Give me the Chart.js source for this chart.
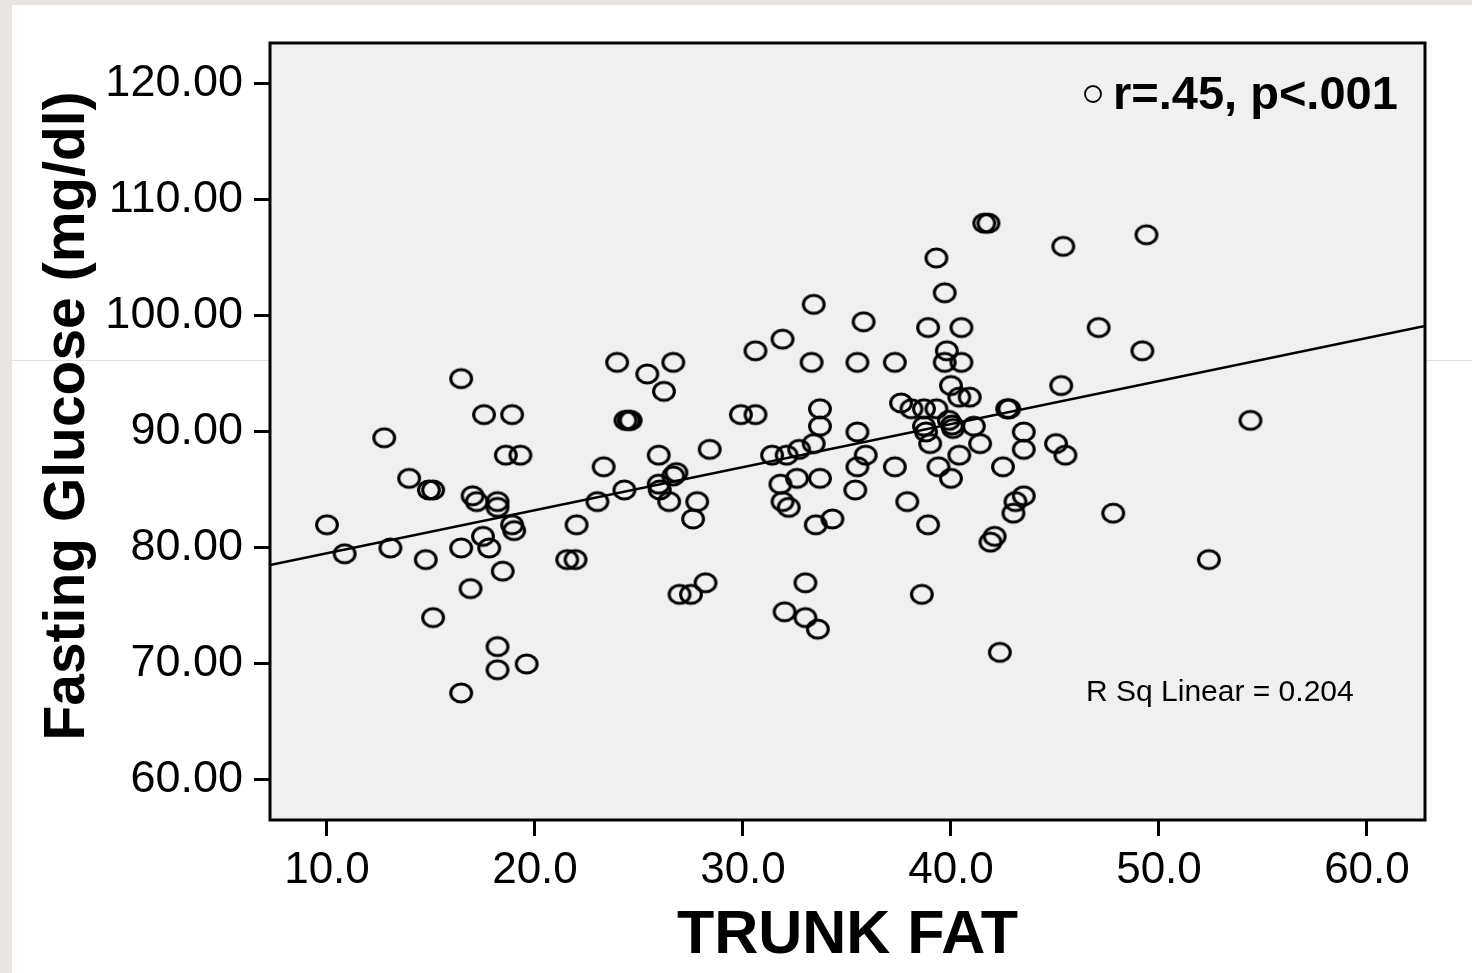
<!DOCTYPE html>
<html>
<head>
<meta charset="utf-8">
<script src="https://cdn.jsdelivr.net/npm/chart.js@4"></script>
<style>
  html, body { margin: 0; padding: 0; background: #ffffff; }
  #wrap { width: 1472px; height: 973px; position: relative; }
</style>
</head>
<body>
<div id="wrap"><canvas id="chart" width="1472" height="973"></canvas></div>
<script>
// values
const trunkFat = [
  10.0, 10.85, 12.75, 13.05, 13.95, 14.75, 14.9, 15.1, 15.1, 16.45,
  16.45, 16.45, 16.9, 17.0, 17.2, 17.55, 17.5, 17.8, 18.2, 18.2,
  18.2, 18.2, 18.45, 18.6, 18.9, 18.9, 19.0, 19.3, 19.6, 21.55,
  21.95, 22.0, 23.0, 23.3, 23.95, 24.3, 24.35, 24.5, 24.6, 25.4,
  25.95, 25.95, 26.0, 26.2, 26.45, 26.65, 26.65, 26.8, 26.95, 27.5,
  27.6, 27.8, 28.2, 28.4, 29.9, 30.6, 30.6, 31.4, 31.8, 31.9,
  31.9, 32.0, 32.1, 32.2, 32.6, 32.7, 33.0, 33.0, 33.3, 33.4,
  33.4, 33.5, 33.6, 33.7, 33.7, 33.7, 34.3, 35.4, 35.5, 35.5,
  35.5, 35.8, 35.9, 37.3, 37.3, 37.6, 37.9, 38.1, 38.6, 38.7,
  38.7, 38.8, 38.9, 38.9, 39.0, 39.3, 39.3, 39.4, 39.7, 39.7,
  39.8, 39.9, 40.0, 40.0, 40.05, 40.1, 40.4, 40.4, 40.5, 40.5,
  40.9, 41.1, 41.4, 41.6, 41.8, 41.9, 42.1, 42.35, 42.5, 42.7,
  42.8, 43.0, 43.1, 43.5, 43.5, 43.5, 45.05, 45.3, 45.4, 45.5,
  47.1, 47.8, 49.2, 49.4, 52.4, 54.4
];
const glucose = [
  82.0, 79.5, 89.5, 80.0, 86.0, 79.0, 85.0, 85.0, 74.0, 94.6,
  80.0, 67.5, 76.5, 84.5, 84.0, 91.5, 81.0, 80.0, 84.0, 83.5,
  71.5, 69.5, 78.0, 88.0, 91.5, 82.0, 81.5, 88.0, 70.0, 79.0,
  79.0, 82.0, 84.0, 87.0, 96.0, 85.0, 91.0, 91.0, 91.0, 95.0,
  88.0, 85.5, 85.0, 93.5, 84.0, 96.0, 86.2, 86.5, 76.0, 76.0,
  82.5, 84.0, 77.0, 88.5, 91.5, 91.5, 97.0, 88.0, 85.5, 98.0,
  84.0, 74.5, 88.0, 83.5, 86.0, 88.5, 77.0, 74.0, 96.0, 101.0,
  89.0, 82.0, 73.0, 92.0, 90.5, 86.0, 82.5, 85.0, 96.0, 90.0,
  87.0, 99.5, 88.0, 96.0, 87.0, 92.5, 84.0, 92.0, 76.0, 92.0,
  90.5, 90.0, 99.0, 82.0, 89.0, 105.0, 92.0, 87.0, 102.0, 96.0,
  97.0, 91.0, 94.0, 86.0, 90.6, 90.3, 93.0, 88.0, 99.0, 96.0,
  93.0, 90.5, 89.0, 108.0, 108.0, 80.5, 81.0, 71.0, 87.0, 92.0,
  92.0, 83.0, 84.0, 84.5, 90.0, 88.5, 89.0, 94.0, 106.0, 88.0,
  99.0, 83.0, 97.0, 107.0, 79.0, 91.0
];
const xTicks = [10, 20, 30, 40, 50, 60];
const yTicks = [60, 70, 80, 90, 100, 110, 120];
const fitX = [7.26, 62.79];
const fitY = [78.53, 99.14];
const statText = "r=.45, p<.001";
const rsqText = "R Sq Linear = 0.204";
const yTitle = "Fasting Glucose (mg/dl)";

const points = trunkFat.map((x, i) => ({ x: x, y: glucose[i] }));
const fitLine = fitX.map((x, i) => ({ x: x, y: fitY[i] }));

const FONT = "'Liberation Sans', Arial, sans-serif";

// slightly flattened open circle like the original markers
function makeMarker() {
  const c = document.createElement("canvas");
  c.width = 26;
  c.height = 24;
  const g = c.getContext("2d");
  g.strokeStyle = "#000";
  g.lineWidth = 3.1;
  g.beginPath();
  g.ellipse(13, 12, 10.4, 9.0, 0, 0, Math.PI * 2);
  g.stroke();
  return c;
}
const marker = makeMarker();

const decor = {
  id: "decor",
  beforeDraw(chart) {
    const ctx = chart.ctx;
    const a = chart.chartArea;
    ctx.save();
    ctx.fillStyle = "#e8e5e2";
    ctx.fillRect(0, 0, 12, 973);
    ctx.fillRect(0, 0, 1472, 5);
    ctx.strokeStyle = "#e2e2e2";
    ctx.lineWidth = 1;
    ctx.beginPath();
    ctx.moveTo(12, 360.5);
    ctx.lineTo(1472, 360.5);
    ctx.stroke();
    ctx.fillStyle = "#f0f0f0";
    ctx.fillRect(a.left, a.top, a.right - a.left, a.bottom - a.top);
    ctx.restore();
  },
  afterDraw(chart) {
    const ctx = chart.ctx;
    const a = chart.chartArea;
    ctx.save();
    ctx.strokeStyle = "#000";
    ctx.lineWidth = 3;
    ctx.strokeRect(a.left, a.top, a.right - a.left, a.bottom - a.top);

    ctx.lineWidth = 1.8;
    ctx.beginPath();
    ctx.arc(1093, 94, 8, 0, Math.PI * 2);
    ctx.stroke();

    ctx.fillStyle = "#000";
    ctx.textBaseline = "middle";
    ctx.textAlign = "left";
    ctx.font = "bold 47px " + FONT;
    ctx.fillText(statText, 1113, 96);

    ctx.font = "30px " + FONT;
    ctx.fillText(rsqText, 1086, 693);

    // y axis title, centred where the original sits
    ctx.translate(68, 416);
    ctx.rotate(-Math.PI / 2);
    ctx.textAlign = "center";
    ctx.font = "bold 57px " + FONT;
    ctx.fillText(yTitle, 0, 0);
    ctx.restore();
  }
};

new Chart(document.getElementById("chart"), {
  type: "scatter",
  data: {
    datasets: [
      {
        label: "Fasting Glucose",
        data: points,
        pointStyle: marker,
        pointRadius: 10,
        pointHoverRadius: 10
      },
      {
        type: "line",
        label: "Fit",
        data: fitLine,
        borderColor: "#000",
        borderWidth: 2.4,
        pointRadius: 0,
        fill: false
      }
    ]
  },
  plugins: [decor],
  options: {
    responsive: false,
    animation: false,
    layout: { padding: { left: 12, top: 43, right: 47, bottom: 0 } },
    plugins: {
      legend: { display: false },
      tooltip: { enabled: false }
    },
    scales: {
      x: {
        type: "linear",
        min: fitX[0],
        max: fitX[1],
        afterFit: scale => { scale.height = 153; },
        afterBuildTicks: scale => { scale.ticks = xTicks.map(v => ({ value: v })); },
        grid: { drawOnChartArea: false, tickLength: 16, tickColor: "#000", tickWidth: 3 },
        border: { display: false },
        ticks: {
          color: "#000",
          padding: 8,
          maxRotation: 0,
          font: { family: FONT, size: 44 },
          callback: v => Number(v).toFixed(1)
        },
        title: {
          display: true,
          text: "TRUNK FAT",
          color: "#000",
          padding: { top: 0, bottom: 0 },
          font: { family: FONT, size: 61, weight: "bold" }
        }
      },
      y: {
        type: "linear",
        min: 56.55,
        max: 123.53,
        afterFit: scale => { scale.width = 258; },
        afterBuildTicks: scale => { scale.ticks = yTicks.map(v => ({ value: v })); },
        grid: { drawOnChartArea: false, tickLength: 16, tickColor: "#000", tickWidth: 3 },
        border: { display: false },
        ticks: {
          color: "#000",
          padding: 11,
          font: { family: FONT, size: 45 },
          callback: v => Number(v).toFixed(2)
        }
      }
    }
  }
});
</script>
</body>
</html>
